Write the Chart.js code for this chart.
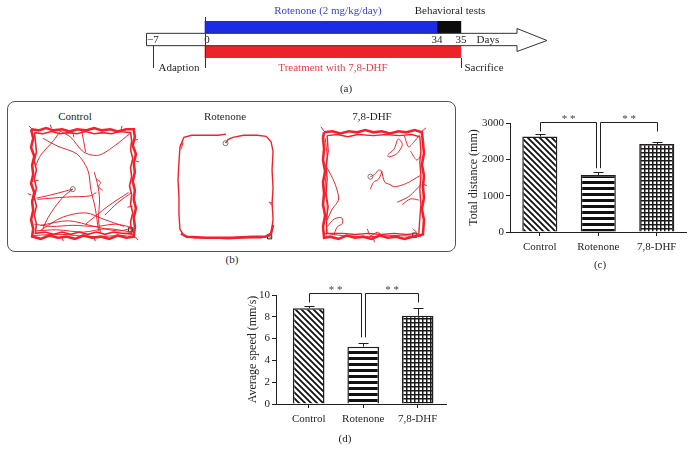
<!DOCTYPE html>
<html lang="en">
<head>
<meta charset="UTF-8">
<title>Rotenone / 7,8-DHF open field</title>
<script src="https://cdn.jsdelivr.net/npm/chart.js"></script>
<style>
  body { margin: 0; width: 694px; height: 460px; position: relative; background: #fff; overflow: hidden;
         font-family: 'Liberation Serif', serif; color: #231f20; }
  canvas { position: absolute; }
  .lbl { position: absolute; transform: translate(-50%, -50%); font-size: 11px; white-space: nowrap; line-height: 1; }
  .panel { position: absolute; left: 7px; top: 101px; width: 447px; height: 149px; border: 1px solid #555; border-radius: 8px; }
</style>
</head>
<body>
<div class="panel"></div>

<canvas id="timeline" width="420" height="80" style="left:140px;top:0"></canvas>
<canvas id="trackControl" width="117" height="123" style="left:25px;top:122px"></canvas>
<canvas id="trackRotenone" width="108" height="118" style="left:172px;top:127px"></canvas>
<canvas id="trackDhf" width="113" height="121" style="left:317px;top:124px"></canvas>
<canvas id="distanceChart" width="234" height="160" style="left:460px;top:100px"></canvas>
<canvas id="speedChart" width="230" height="162" style="left:226px;top:270px"></canvas>

<div class="lbl" style="left:328px;top:10px;color:#3d3dd6">Rotenone (2 mg/kg/day)</div>
<div class="lbl" style="left:450px;top:10px">Behavioral tests</div>
<div class="lbl" style="left:179px;top:67px">Adaption</div>
<div class="lbl" style="left:333px;top:67px;color:#e2404a">Treatment with 7,8-DHF</div>
<div class="lbl" style="left:484px;top:67px">Sacrifice</div>
<div class="lbl" style="left:346px;top:88px">(a)</div>
<div class="lbl" style="left:75px;top:116px">Control</div>
<div class="lbl" style="left:225px;top:116px">Rotenone</div>
<div class="lbl" style="left:372px;top:116px">7,8-DHF</div>
<div class="lbl" style="left:232px;top:259px">(b)</div>
<div class="lbl" style="left:600px;top:264px">(c)</div>
<div class="lbl" style="left:345px;top:438px">(d)</div>

<script>
// ---- data ----
const timelineDays = [-7, 0, 34, 35];
const timelineDayLabels = ['\u22127', '0', '34', '35'];
const rotenoneDays = [0, 34];
const behaviorDays = [34, 35];
const treatmentDays = [0, 35];

const groups = ['Control', 'Rotenone', '7,8-DHF'];
const referenceGroup = 1;
const totalDistance = [2630, 1570, 2420];
const totalDistanceSem = [75, 75, 55];
const distanceTicks = [0, 1000, 2000, 3000];
const avgSpeed = [8.78, 5.26, 8.10];
const avgSpeedSem = [0.24, 0.31, 0.73];
const speedTicks = [0, 2, 4, 6, 8, 10];
const comparisons = [[0, 1, '**'], [1, 2, '**']];

// open field tracks, arena units 0..100 (y down)
const controlWall = [[1,2],[8,3],[15,1],[22,3],[30,2],[37,4],[44,2],[52,3],[60,1],[67,3],[75,2],[82,4],[90,2],[97,2],
  [98,9],[96,16],[99,24],[97,32],[98,40],[96,48],[98,56],[97,64],[99,72],[97,80],[98,88],[97,97],
  [90,98],[82,96],[74,99],[66,97],[58,98],[50,96],[42,99],[34,97],[26,98],[18,96],[10,99],[2,97],
  [3,90],[1,82],[3,74],[2,66],[4,58],[1,50],[3,42],[2,34],[4,26],[1,18],[3,10],[1,2]];
const controlWallInner = [[4,5],[12,6],[20,4],[28,6],[36,5],[44,6],[52,4],[60,6],[68,5],[76,6],[84,4],[94,5],
  [95,12],[94,20],[96,28],[94,36],[95,44],[93,52],[95,60],[94,68],[96,76],[94,84],[95,94],
  [86,94],[78,93],[70,95],[62,93],[54,95],[46,93],[38,95],[30,93],[22,95],[14,93],[5,94],
  [6,86],[4,78],[6,70],[4,62],[6,54],[4,46],[6,38],[4,30],[6,22],[5,12],[4,5]];
const controlPaths = [
  [[4,86],[20,88],[40,87],[62,88],[80,86],[96,89]],
  [[5,92],[25,91],[50,93],[72,90],[95,93]],
  [[3,96],[30,95],[55,97],[85,96],[97,95]],
  [[40,55],[32,61],[24,70],[17,80],[12,90]],
  [[6,63],[20,60],[32,57],[40,55]],
  [[12,10],[26,17],[44,24],[54,38],[57,56],[61,72],[64,92]],
  [[27,3],[38,9],[50,22],[64,25],[80,16],[93,6]],
  [[5,35],[10,25],[22,12],[28,4]],
  [[70,78],[82,67],[95,58]],
  [[52,86],[73,70],[92,58]],
  [[60,40],[63,50],[65,64],[64,82],[66,94]],
  [[10,87],[36,83],[60,88],[82,92],[94,90]],
  [[9,92],[30,80],[52,76],[70,82],[88,88]],
  [[7,64],[34,62],[56,61],[62,58]],
  [[62,46],[66,49],[64,53],[68,56]],
  [[48,2],[50,12],[52,22]],
  [[20,1],[19,-2]], [[60,98],[61,101]], [[99,30],[102,31]], [[1,60],[-2,59]],
  [[40,4],[41,9]], [[96,70],[91,71]], [[2,2],[-1,-1]], [[98,97],[101,100]],
  [[85,3],[86,-1]], [[3,48],[8,47]], [[30,97],[31,101]], [[97,12],[101,11]]
];
const controlStart = [40, 55];
const controlEnd = [94, 91];

const rotenoneLap = [[49.5,10.4],[52,7],[57,5],[68,3],[82,3],[91,4],[96,9],[98,18],[97,35],[98,52],[97,66],[98,80],[97,90],[95,96],[86,98],[70,98],[52,99],[35,98],[18,98],[7,96],[3,90],[2,76],[2,60],[1,44],[2,28],[3,14],[7,5],[15,3],[30,3],[42,3],[50,2]];
const rotenoneBottom = [[4,94],[10,97],[30,98],[55,98],[78,97],[90,97],[96,94],[98,86]];
const rotenonePaths = [
  [[98,66],[94,65],[97,68]],
  [[3,12],[6,10],[4,16]],
  [[97,93],[93,96],[96,98]]
];
const rotenoneStart = [49.5, 10.4];
const rotenoneEnd = [94.5, 97];

const dhfWall = [[2,3],[10,2],[18,4],[26,2],[34,3],[42,1],[50,3],[58,2],[66,4],[74,2],[82,3],[90,1],[97,3],
  [98,12],[99,22],[97,32],[99,42],[98,52],[99,62],[97,72],[99,82],[98,95],
  [88,97],[80,99],[72,97],[64,98],[56,96],[48,99],[40,97],[32,98],[24,96],[16,99],[8,97],[2,98],
  [1,88],[3,78],[1,68],[2,58],[1,48],[3,38],[1,28],[2,18],[1,8],[2,3]];
const dhfWallInner = [[5,6],[15,5],[25,7],[35,5],[50,6],[62,5],[75,6],[87,5],[95,7],
  [96,20],[95,30],[96,42],[95,55],[96,68],[95,80],[94,94],
  [82,95],[70,94],[58,95],[45,94],[32,95],[20,94],[5,94],
  [4,82],[6,70],[4,58],[5,45],[4,32],[6,20],[5,6]];
const dhfPaths = [
  [[3,8],[5,25],[4,40],[3,55],[5,70],[4,96]],
  [[3,94],[20,96],[45,97],[70,96],[96,97]],
  [[47,43],[51,41],[55,37],[58,38],[55,45],[50,48],[47,54]],
  [[58,38],[61,48],[66,50],[70,52],[76,51],[82,49],[88,46],[95,42]],
  [[64,23],[70,18],[74,9],[78,14],[73,22],[66,25],[63,24]],
  [[80,6],[84,16],[89,12],[95,5]],
  [[73,66],[84,61],[91,55],[96,50]],
  [[78,68],[86,63],[94,64]],
  [[3,32],[9,42],[14,53],[16,64],[10,72],[5,82]],
  [[5,88],[12,81],[19,80],[20,85],[15,88],[12,94]],
  [[44,90],[47,96],[54,93],[58,97]],
  [[86,20],[92,28],[96,24]],
  [[2,2],[-1,-2]], [[97,2],[101,-1]], [[99,50],[102,51]], [[50,99],[51,102]], [[92,93],[88,90]]
];
const dhfStart = [47, 43];
const dhfEnd = [90, 95.6];

// ---- common ----
const INK = '#231f20';
const TRACK_RED = '#f0222c';
const serif = "'Liberation Serif', serif";
Chart.defaults.font.family = serif;
Chart.defaults.color = INK;

const base = { responsive: false, animation: false, devicePixelRatio: 1,
  plugins: { legend: { display: false }, tooltip: { enabled: false } } };

// schematic timeline: the last day is drawn wider than the rest
const toAxis = d => d < 0 ? d * 1.09 : d <= 34 ? d : 34 + (d - 34) * 3.5;

const timelinePlugin = {
  id: 'timelineArrow',
  afterDatasetsDraw(chart) {
    const { ctx, chartArea } = chart;
    const xs = chart.scales.x, ys = chart.scales.y;
    const rowH = (chartArea.bottom - chartArea.top) / 3;
    const midY = ys.getPixelForValue(1);
    const top = midY - rowH / 2, bot = midY + rowH / 2;
    const headBase = chartArea.right - 33, tip = chartArea.right - 3;
    ctx.save();
    ctx.strokeStyle = '#333'; ctx.lineWidth = 1; ctx.fillStyle = '#fff';
    ctx.beginPath();
    ctx.moveTo(chartArea.left + 0.5, top);
    ctx.lineTo(headBase, top); ctx.lineTo(headBase, midY - 11);
    ctx.lineTo(tip, midY + 1); ctx.lineTo(headBase, midY + 12);
    ctx.lineTo(headBase, bot); ctx.lineTo(chartArea.left + 0.5, bot);
    ctx.closePath(); ctx.fill(); ctx.stroke();

    ctx.fillStyle = INK; ctx.font = '11px ' + serif;
    ctx.textAlign = 'center'; ctx.textBaseline = 'middle';
    timelineDays.forEach((d, i) => {
      const x = xs.getPixelForValue(toAxis(d)) + (d === 0 ? 2 : 0);
      ctx.fillText(timelineDayLabels[i], x, midY + 1);
    });
    ctx.fillText('Days', xs.getPixelForValue(toAxis(35)) + 27, midY + 1);

    // stage markers
    const mark = (d, y0, y1) => {
      const x = Math.round(xs.getPixelForValue(toAxis(d))) + 0.5;
      ctx.beginPath(); ctx.moveTo(x, y0); ctx.lineTo(x, y1); ctx.stroke();
    };
    const low = chartArea.bottom + 10;
    mark(0, chartArea.top - 4, low);
    mark(-7, bot, low);
    mark(35, chartArea.bottom, low);
    ctx.restore();
  }
};

new Chart(document.getElementById('timeline'), {
  type: 'bar',
  data: {
    labels: ['dose', 'days', 'treat'],
    datasets: [
      { data: [rotenoneDays.map(toAxis), null, null], backgroundColor: '#1c2be4' },
      { data: [behaviorDays.map(toAxis), null, null], backgroundColor: '#0c0c0c' },
      { data: [null, null, treatmentDays.map(toAxis)], backgroundColor: '#ec2329' }
    ]
  },
  options: {
    ...base,
    indexAxis: 'y',
    datasets: { bar: { grouped: false, barPercentage: 1, categoryPercentage: 1, borderWidth: 0 } },
    layout: { padding: { left: 6, right: 10, top: 21, bottom: 22 } },
    scales: {
      x: { type: 'linear', min: -8.647, max: 50.56, display: false },
      y: { display: false }
    }
  },
  plugins: [timelinePlugin]
});

// ---- tracks ----
function trackChart(id, walls, paths, start, end) {
  const pts = arr => arr.map(([x, y]) => ({ x, y }));
  const datasets = [];
  walls.forEach(([arr, w]) => datasets.push({ data: pts(arr), borderWidth: w, tension: 0 }));
  paths.forEach(arr => datasets.push({ data: pts(arr), borderWidth: 1, tension: 0.3 }));
  datasets.forEach(d => Object.assign(d, { showLine: true, pointRadius: 0, borderColor: TRACK_RED, clip: false }));
  datasets.push({ data: pts([start]), showLine: false, pointStyle: 'circle', pointRadius: 2.5,
    pointBorderColor: '#777', pointBackgroundColor: 'rgba(0,0,0,0)', pointBorderWidth: 1 });
  datasets.push({ data: pts([end]), showLine: false, pointStyle: 'rect', pointRadius: 3,
    pointBorderColor: '#222', pointBackgroundColor: 'rgba(0,0,0,0)', pointBorderWidth: 1 });
  new Chart(document.getElementById(id), {
    type: 'scatter',
    data: { datasets },
    options: {
      ...base,
      layout: { padding: 3 },
      scales: {
        x: { type: 'linear', min: 0, max: 100, display: false },
        y: { type: 'linear', min: 0, max: 100, reverse: true, display: false }
      }
    }
  });
}

trackChart('trackControl', [[controlWall, 2.6], [controlWallInner, 1.6]], controlPaths, controlStart, controlEnd);
trackChart('trackRotenone', [[rotenoneLap, 1.4], [rotenoneBottom, 2.5]], rotenonePaths, rotenoneStart, rotenoneEnd);
trackChart('trackDhf', [[dhfWall, 2.6], [dhfWallInner, 1.4]], dhfPaths, dhfStart, dhfEnd);

// ---- bar charts ----
function makePattern(kind) {
  const c = document.createElement('canvas');
  const g = c.getContext('2d');
  if (kind === 'diag') {
    c.width = c.height = 6;
    g.fillStyle = '#fff'; g.fillRect(0, 0, 6, 6);
    g.strokeStyle = '#111'; g.lineWidth = 1.8;
    g.beginPath();
    g.moveTo(-1, -1); g.lineTo(7, 7);
    g.moveTo(5, -1); g.lineTo(7, 1);
    g.moveTo(-1, 5); g.lineTo(1, 7);
    g.stroke();
  } else if (kind === 'horiz') {
    c.width = 6; c.height = 6;
    g.fillStyle = '#fff'; g.fillRect(0, 0, 6, 6);
    g.fillStyle = '#111'; g.fillRect(0, 3, 6, 3);
  } else {
    c.width = c.height = 4;
    g.fillStyle = '#fff'; g.fillRect(0, 0, 4, 4);
    g.fillStyle = '#1a1a1a';
    g.fillRect(0, 0, 1.5, 4); g.fillRect(0, 0, 4, 1.5);
  }
  return g.createPattern(c, 'repeat');
}
const fills = [makePattern('diag'), makePattern('horiz'), makePattern('grid')];

function barExtras(values, sem, bracketAt, innerGap) {
  return {
    id: 'barExtras',
    afterDatasetsDraw(chart) {
      const { ctx } = chart;
      const xs = chart.scales.x, ys = chart.scales.y;
      ctx.save();
      ctx.strokeStyle = INK; ctx.lineWidth = 1;
      const seg = (x0, y0, x1, y1) => { ctx.beginPath(); ctx.moveTo(x0, y0); ctx.lineTo(x1, y1); ctx.stroke(); };
      // upper error bars
      values.forEach((v, i) => {
        const cx = Math.round(xs.getPixelForValue(i + 1)) + 0.5;
        const y0 = ys.getPixelForValue(v), y1 = Math.round(ys.getPixelForValue(v + sem[i])) + 0.5;
        seg(cx, y0, cx, y1);
        seg(cx - 5, y1, cx + 5, y1);
      });
      // significance brackets
      const yb = Math.round(ys.getPixelForValue(bracketAt)) + 0.5;
      const legEnd = i => i === referenceGroup ? ys.getPixelForValue(values[i] + sem[i]) - innerGap : yb + 9;
      const legX = (i, side) => Math.round(xs.getPixelForValue(i + 1) + (i === referenceGroup ? side * 2 : 0)) + 0.5;
      ctx.fillStyle = '#444'; ctx.font = '11px ' + serif;
      ctx.textAlign = 'center'; ctx.textBaseline = 'alphabetic';
      comparisons.forEach(([a, b, star]) => {
        const xa = legX(a, 1), xb = legX(b, -1);
        ctx.beginPath();
        ctx.moveTo(xa, legEnd(a)); ctx.lineTo(xa, yb); ctx.lineTo(xb, yb); ctx.lineTo(xb, legEnd(b));
        ctx.stroke();
        ctx.fillText(star.split('').join(' '), (xa + xb) / 2, yb - 1);
      });
      ctx.restore();
    }
  };
}

function barChart(id, values, sem, ticks, yMax, title, layout) {
  new Chart(document.getElementById(id), {
    type: 'bar',
    data: {
      datasets: [{
        data: values.map((v, i) => ({ x: i + 1, y: v })),
        backgroundColor: fills,
        borderColor: INK, borderWidth: 1.5,
        barPercentage: layout.bar, categoryPercentage: 1
      }]
    },
    options: {
      ...base,
      layout: { padding: { top: layout.top, right: layout.right, left: 0, bottom: 0 } },
      scales: {
        x: {
          type: 'linear', min: layout.xMin, max: layout.xMax, offset: false,
          afterBuildTicks: s => { s.ticks = groups.map((g, i) => ({ value: i + 1 })); },
          afterFit: s => { s.height = layout.xHeight; },
          ticks: { callback: v => groups[v - 1], font: { size: 11 }, color: INK, padding: 5, autoSkip: false, maxRotation: 0 },
          grid: { drawOnChartArea: false, offset: false, tickLength: 4, color: INK },
          border: { color: INK, width: 1 }
        },
        y: {
          min: 0, max: yMax,
          afterBuildTicks: s => { s.ticks = ticks.map(v => ({ value: v })); },
          afterFit: s => { s.width = layout.yWidth; },
          ticks: { callback: v => String(v), font: { size: 11 }, color: INK, padding: 2 },
          grid: { drawOnChartArea: false, tickLength: 4, color: INK },
          border: { color: INK, width: 1 },
          title: { display: true, text: title, font: { size: 12 }, color: INK, padding: { top: layout.titlePad, bottom: 0 } }
        }
      }
    },
    plugins: [barExtras(values, sem, layout.bracketAt, layout.innerGap)]
  });
}

barChart('distanceChart', totalDistance, totalDistanceSem, distanceTicks, 3000, 'Total distance (mm)',
  { top: 23, right: 8, xHeight: 28, yWidth: 50, titlePad: 7, xMin: 0.49, xMax: 3.5, bar: 0.6, bracketAt: 3016, innerGap: 4 });
barChart('speedChart', avgSpeed, avgSpeedSem, speedTicks, 10, 'Average speed (mm/s)',
  { top: 25, right: 10, xHeight: 28, yWidth: 50, titlePad: 20, xMin: 0.40, xMax: 3.52, bar: 0.58, bracketAt: 10.16, innerGap: 6 });
</script>
</body>
</html>
